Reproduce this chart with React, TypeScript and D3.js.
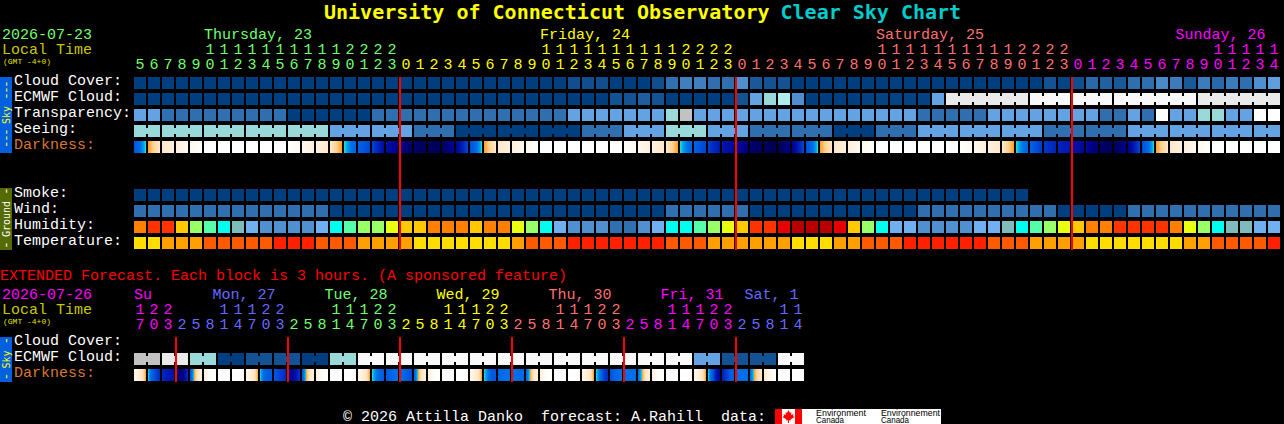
import React, { useEffect, useRef } from 'react';
import * as d3 from 'd3';

// tick labels
const mainHours = [
  5, 6, 7, 8, 9, 10, 11, 12, 13, 14, 15, 16, 17, 18, 19, 20, 21, 22, 23,
  0, 1, 2, 3, 4, 5, 6, 7, 8, 9, 10, 11, 12, 13, 14, 15, 16, 17, 18, 19, 20, 21, 22, 23,
  0, 1, 2, 3, 4, 5, 6, 7, 8, 9, 10, 11, 12, 13, 14, 15, 16, 17, 18, 19, 20, 21, 22, 23,
  0, 1, 2, 3, 4, 5, 6, 7, 8, 9, 10, 11, 12, 13, 14,
];
const extHours = [
  17, 20, 23,
  2, 5, 8, 11, 14, 17, 20, 23,
  2, 5, 8, 11, 14, 17, 20, 23,
  2, 5, 8, 11, 14, 17, 20, 23,
  2, 5, 8, 11, 14, 17, 20, 23,
  2, 5, 8, 11, 14, 17, 20, 23,
  2, 5, 8, 11, 14,
];
const mainDays = ['Thursday, 23', 'Friday, 24', 'Saturday, 25', 'Sunday, 26'];
const mainDayCols = [5, 29, 53, 74.4];
const extDays = ['Su', 'Mon, 27', 'Tue, 28', 'Wed, 29', 'Thu, 30', 'Fri, 31', 'Sat, 1'];
const extDayCols = [0, 5.6, 13.6, 21.6, 29.6, 37.6, 43.6];
const mainMidnights = [19, 43, 67];
const extMidnights = [3, 11, 19, 27, 35, 43];

// forecast values, one per hour
const cloudCover = [
  0, 0, 0, 0, 0, 0, 0, 0, 0, 0,
  0, 0, 0, 0, 0, 0, 0, 0, 0, 0,
  0, 0, 0, 0, 0, 0, 0, 0, 0, 0,
  0, 8, 8, 8, 0, 0, 0, 8, 20, 25,
  25, 20, 20, 30, 12, 10, 10, 0, 0, 0,
  0, 0, 0, 0, 0, 0, 0, 0, 0, 0,
  0, 0, 0, 0, 0, 10, 3, 8, 18, 15,
  12, 20, 20, 28, 24, 12, 24, 18, 24, 20, 30, 38,
];
const ecmwfCloud = [
  0, 0, 0, 0, 0, 0, 0, 0, 0, 0,
  0, 0, 0, 0, 0, 0, 0, 0, 0, 0,
  0, 0, 0, 0, 0, 0, 0, 0, 0, 0,
  0, 0, 0, 0, 10, 10, 14, 10, 0, 0,
  0, 0, 0, 10, 40, 50, 60, 30, 0, 0,
  0, 0, 2, 2, 2, 2, 2, 40, 80, 80,
  80, 80, 80, 80, 90, 90, 90, 90, 90, 90,
  90, 90, 90, 90, 90, 90, 80, 80, 80, 80, 80, 80,
];
const ecmwfRuns = [[58, 63], [64, 66], [67, 69], [70, 75], [76, 81]];
const transparency = [
  40, 40, 20, 20, 20, 20, 20, 20, 20, 20,
  20, 0, 0, 0, 0, 0, 0, 20, 20, 20,
  20, 20, 20, 20, 20, 20, 20, 20, 20, 20,
  20, 40, 40, 40, 40, 40, 40, 40, 50, 70,
  40, 40, 40, 40, 40, 40, 40, 40, 40, 40,
  40, 40, 40, 40, 40, 40, 20, 20, 20, 20,
  20, 40, 40, 40, 40, 40, 40, 40, 40, 20,
  20, 40, 20, 100, 40, 40, 50, 50, 40, 40, 100, 100,
];
const seeing = [
  50, 50, 50, 50, 50, 50, 50, 50, 50, 50,
  50, 50, 50, 50, 40, 40, 40, 40, 40, 40,
  20, 20, 20, 0, 0, 0, 0, 0, 0, 0,
  0, 0, 20, 20, 20, 40, 40, 40, 50, 50,
  50, 40, 40, 40, 20, 20, 20, 20, 20, 20,
  0, 0, 0, 20, 20, 20, 40, 40, 40, 40,
  40, 40, 40, 40, 40, 20, 20, 20, 20, 20,
  20, 40, 40, 40, 40, 40, 40, 40, 40, 40, 40, 40,
];
// darkness at the start of each hour, and the end of the last one
const darkness = [
  2.2, 0, -2.3, -2.8, -3.4, -4, -4, -4, -4, -4,
  -4, -4, -3.4, -2.8, -2.3, 0, 1.6, 2.5, 4.2, 5.1,
  5.6, 6, 5.9, 4.8, 2.4, 0, -2.3, -2.8, -3.4, -4,
  -4, -4, -4, -4, -4, -4, -3.4, -2.8, -2.3, 0,
  1.6, 2.6, 3.8, 4.4, 5.4, 6, 6.2, 5, 2.4, 0,
  -2.3, -2.8, -3.4, -4, -4, -4, -4, -4, -4, -4,
  -3.4, -2.8, -2.3, 0, 1.6, 2.8, 3.4, 3.8, 4.6, 5.6,
  6, 5, 2.4, 0, -2.3, -2.8, -3.4, -4, -4, -4,
  -4, -4, -4,
];
const smoke = [
  0, 0, 0, 0, 0, 0, 0, 0, 0, 0,
  0, 0, 0, 0, 0, 0, 0, 0, 0, 0,
  0, 0, 0, 0, 0, 0, 0, 0, 0, 0,
  0, 0, 0, 0, 0, 0, 0, 0, 0, 0,
  0, 0, 0, 0, 0, 0, 0, 0, 0, 0,
  0, 0, 0, 0, 0, 0, 0, 0, 0, 0,
  0, 0, 0, 0,
];
const wind = [
  8, 8, 8, 8, 8, 8, 8, 8, 8, 8,
  8, 8, 8, 8, 3, 3, 3, 3, 3, 3,
  3, 3, 3, 3, 3, 3, 3, 3, 3, 3,
  3, 3, 3, 3, 3, 3, 3, 3, 8, 8,
  8, 8, 8, 8, 3, 3, 3, 3, 3, 3,
  3, 3, 3, 3, 3, 3, 8, 8, 8, 8,
  8, 8, 8, 8, 8, 8, 3, 3, 3, 3,
  3, 8, 8, 8, 8, 8, 8, 8, 8, 8, 8, 8,
];
const humidity = [
  80, 85, 85, 75, 65, 60, 55, 50, 45, 40,
  40, 40, 40, 45, 55, 60, 65, 65, 70, 75,
  75, 80, 80, 80, 75, 80, 80, 70, 65, 55,
  45, 40, 40, 40, 35, 35, 40, 45, 55, 55,
  60, 65, 70, 75, 85, 85, 90, 95, 95, 95,
  90, 75, 65, 55, 45, 45, 40, 40, 40, 40,
  45, 45, 50, 55, 60, 65, 70, 75, 80, 80,
  85, 85, 85, 85, 80, 70, 65, 55, 50, 50, 45, 45,
];
const temperature = [
  63, 63, 66, 66, 66, 70, 70, 70, 70, 70,
  73, 73, 73, 70, 70, 70, 66, 66, 66, 66,
  63, 63, 63, 63, 63, 63, 63, 66, 70, 70,
  70, 73, 73, 73, 73, 73, 73, 73, 70, 70,
  70, 66, 66, 66, 66, 66, 66, 63, 63, 63,
  66, 66, 70, 70, 70, 73, 73, 73, 73, 73,
  73, 70, 70, 70, 66, 66, 66, 66, 63, 63,
  63, 63, 63, 63, 63, 66, 66, 70, 70, 70, 70, 73,
];

// extended forecast, one per 3 hours
const extCloud = [
  70, 70, 80, 80, 50, 50, 0, 0, 10, 10, 10, 10, 0, 0, 50, 50,
  90, 90, 90, 90, 90, 90, 90, 90, 90, 90, 90, 90, 90, 90, 90, 90,
  90, 90, 90, 90, 90, 90, 90, 90, 40, 40, 10, 10, 10, 10, 90, 90,
];
const extDarkness = [
  [-3.4, -2.8, -2.3, 0], [0, 1.6, 2.5, 3.2], [3.2, 3.6, 3.8, 3.9], [5.6, 5.4, 4.8, 3],
  [2.2, 0, -2.3, -2.8], [-2.8, -3.4, -4, -4], [-4, -4, -4, -4], [-4, -4, -4, -3.4],
  [-3.4, -2.8, -2.3, 0], [0, 1.3, 1.8, 2], [2, 2.4, 2.8, 3.2], [5, 4.6, 4, 2.8],
  [1.8, 0, -2.3, -2.8], [-2.8, -3.4, -4, -4], [-4, -4, -4, -4], [-4, -4, -4, -3.4],
  [-3.4, -2.8, -2.3, 0], [0, 0.8, 1.4, 2], [2, 1.6, 1.2, 1], [1, 1.4, 1.9, 2.4],
  [1.6, 0, -2.3, -2.8], [-2.8, -3.4, -4, -4], [-4, -4, -4, -4], [-4, -4, -4, -3.4],
  [-3.4, -2.8, -2.3, 0], [0, 0.9, 2, 2], [1.6, 1.2, 1, 1], [1, 1, 1.2, 1.4],
  [1.4, 0, -2.3, -2.8], [-2.8, -3.4, -4, -4], [-4, -4, -4, -4], [-4, -4, -4, -3.4],
  [-3.4, -2.8, -2.3, 0], [0, 1, 2.6, 3.2], [2.4, 1.6, 1.2, 1], [1, 1, 1, 1.2],
  [1.2, 0, -2.3, -2.8], [-2.8, -3.4, -4, -4], [-4, -4, -4, -4], [-4, -4, -4, -3.4],
  [-3.4, -2.8, -2.3, 0], [0, 1.6, 3.6, 4.8], [3.6, 2.8, 2, 1.6], [1, 1, 1, 1.2],
  [1.2, 0, -1.6, -2.4], [-2.4, -3, -3.6, -4], [-4, -4, -4, -4], [-4, -4, -4, -4],
];

const dayColors = ['#70FF70', '#FFFF00', '#FF7070', '#FF00FF', '#6868FF'];
const MONO = '"Liberation Mono", monospace';
const BOLD_MONO = '"DejaVu Sans Mono", monospace';
const CELL = 12;

const skyColor = d3.scaleLinear<string>()
  .domain([0, 10, 20, 30, 40, 50, 60, 70, 80, 90, 100])
  .range(['#003F7F', '#135393', '#2F6FAF', '#4F8FCF', '#63A3E3', '#99D9D9', '#AEEEEE', '#C2C2C2', '#EAEAEA', '#F9F9F9', '#FFFFFF']);
const windColor = d3.scaleThreshold<number, string>().domain([6]).range(['#003F7F', '#2F6FAF']);
const humidityColor = d3.scaleThreshold<number, string>()
  .domain([40, 45, 50, 55, 60, 65, 70, 75, 80, 85, 90, 95])
  .range(['#3070B0', '#5090D0', '#70B0F0', '#80BBBB', '#00FFEE', '#55FFAA', '#99FF66', '#E8FF10', '#FFC800', '#FF8000', '#FF3300', '#E80000', '#B80000']);
const temperatureColor = d3.scaleThreshold<number, string>()
  .domain([66, 70, 73])
  .range(['#FFDD00', '#FFA000', '#FF5A00', '#FF2000']);
const darknessColor = d3.scaleLinear<string>()
  .domain([-4, -3.4, -2.8, -2.3, -1, -0.01, 0.01, 0.4, 1, 2, 3, 4, 5, 5.5, 6, 6.5])
  .range(['#FFFFFF', '#FFF8F0', '#FFF0DE', '#FFE8C8', '#FFD090', '#FFA020', '#30E0C0', '#00A0F0', '#0070E8', '#0058E0', '#0030C8', '#0010A8', '#000090', '#000070', '#000058', '#000048'])
  .clamp(true);

export default function App() {
  const ref = useRef<SVGSVGElement>(null);

  useEffect(() => {
    if (!ref.current) return;
    const svg = d3.select(ref.current);
    svg.selectAll('*').remove();

    const mainX = d3.scaleLinear().domain([0, mainHours.length]).range([134, 1282]);
    const extX = d3.scaleLinear().domain([0, extHours.length]).range([134, 806]);

    const text = (x: number, y: number, s: string, fill: string, size = 15, anchor = 'start') =>
      svg.append('text')
        .attr('x', x)
        .attr('y', y)
        .attr('fill', fill)
        .attr('font-family', MONO)
        .attr('font-size', size)
        .attr('text-anchor', anchor)
        .style('white-space', 'pre')
        .text(s);

    // row of blocks, joined(c) says if block c is bridged to block c + 1
    const row = (x: d3.ScaleLinear<number, number>, y: number, values: number[], color: (v: number) => string, joined?: (c: number) => boolean) => {
      const g = svg.append('g').attr('shape-rendering', 'crispEdges');
      values.forEach((v, c) => {
        g.append('rect').attr('x', x(c)).attr('y', y).attr('width', CELL).attr('height', CELL).attr('fill', color(v));
        if (joined && joined(c) && c < values.length - 1) {
          g.append('rect').attr('x', x(c) + CELL).attr('y', y + 3).attr('width', x(c + 1) - x(c) - CELL).attr('height', CELL - 6).attr('fill', color(v));
        }
      });
    };

    const darknessRow = (x: d3.ScaleLinear<number, number>, y: number, cells: number[][]) => {
      const g = svg.append('g').attr('shape-rendering', 'crispEdges');
      cells.forEach((points, c) => {
        const at = d3.piecewise(d3.interpolateNumber, points);
        d3.range(CELL).forEach(p => {
          g.append('rect')
            .attr('x', x(c) + p)
            .attr('y', y)
            .attr('width', 1)
            .attr('height', CELL)
            .attr('fill', darknessColor(at((p + 0.5) / CELL)));
        });
      });
    };

    const hourTicks = (x: d3.ScaleLinear<number, number>, hours: number[], tensY: number, onesY: number, firstColor: number) => {
      let day = firstColor;
      hours.forEach((h, c) => {
        if (c > 0 && h < hours[c - 1]) day = (day + 1) % dayColors.length;
        const cx = x(c) + CELL / 2;
        if (h >= 10) text(cx, tensY, String(Math.floor(h / 10)), dayColors[day], 15, 'middle');
        text(cx, onesY, String(h % 10), dayColors[day], 15, 'middle');
      });
    };

    const sideBar = (y0: number, y1: number, fill: string, label: string, dashes: number, color: string) => {
      svg.append('rect').attr('x', 0).attr('y', y0).attr('width', 12).attr('height', y1 - y0).attr('fill', fill);
      const t = svg.append('text')
        .attr('transform', `translate(9.5,${(y0 + y1) / 2}) rotate(-90)`)
        .attr('text-anchor', 'middle')
        .attr('fill', color)
        .attr('font-family', BOLD_MONO)
        .attr('font-size', 10)
        .style('white-space', 'pre');
      // hyphens drawn bigger and squeezed so they read as the long dashes of the original
      const dash = '-'.repeat(dashes);
      t.append('tspan').attr('font-size', 13).attr('letter-spacing', -1.8).text(dash);
      t.append('tspan').text(` ${label} `);
      t.append('tspan').attr('font-size', 13).attr('letter-spacing', -1.8).text(dash);
    };

    // Title
    const title = svg.append('text').attr('x', 324).attr('y', 18.5).attr('font-family', BOLD_MONO).attr('font-size', 20).attr('font-weight', 'bold');
    title.append('tspan').attr('fill', '#FFFF00').text('University of Connecticut Observatory');
    title.append('tspan').attr('fill', '#00CCCC').attr('dx', 11).text('Clear Sky Chart');

    // Main header
    text(2, 39, '2026-07-23', dayColors[0]);
    text(2, 54, 'Local Time', '#C8C800');
    text(3, 64, '(GMT -4+0)', '#E0E000', 8);
    mainDays.forEach((d, i) => text(mainX(mainDayCols[i]), 39, d, dayColors[i]));
    hourTicks(mainX, mainHours, 54, 69, 0);

    // Sky rows
    sideBar(77, 153, '#0060E0', 'Sky', 3, '#FFFF00');
    const labels = ['Cloud Cover:', 'ECMWF Cloud:', 'Transparency:', 'Seeing:'];
    labels.forEach((l, i) => text(14, 85 + i * 16, l, '#FFFFFF'));
    text(14, 149, 'Darkness:', '#D87830');
    row(mainX, 77, cloudCover, skyColor);
    row(mainX, 93, ecmwfCloud, skyColor, c => ecmwfRuns.some(([a, b]) => c >= a && c < b));
    row(mainX, 109, transparency, skyColor);
    row(mainX, 125, seeing, skyColor, c => (c + 1) % 3 !== 2);
    darknessRow(mainX, 141, d3.range(mainHours.length).map(c => [darkness[c], darkness[c + 1]]));

    // Ground rows
    sideBar(188, 250, '#556B00', 'Ground', 1, '#FFFFFF');
    ['Smoke:', 'Wind:', 'Humidity:', 'Temperature:'].forEach((l, i) => text(14, 197 + i * 16, l, '#FFFFFF'));
    row(mainX, 189, smoke, skyColor);
    row(mainX, 205, wind, windColor);
    row(mainX, 221, humidity, humidityColor);
    row(mainX, 237, temperature, temperatureColor);

    mainMidnights.forEach(c => {
      svg.append('rect').attr('x', mainX(c) - 1).attr('y', 77).attr('width', 2).attr('height', 173).attr('fill', '#FF0000');
    });

    // Extended forecast
    text(0, 280, 'EXTENDED Forecast. Each block is 3 hours. (A sponsored feature)', '#FF0000');
    text(2, 299, '2026-07-26', dayColors[3]);
    text(2, 314, 'Local Time', '#C8C800');
    text(3, 324, '(GMT -4+0)', '#E0E000', 8);
    extDays.forEach((d, i) => text(extX(extDayCols[i]), 299, d, dayColors[(i + 3) % dayColors.length]));
    hourTicks(extX, extHours, 314, 329, 3);

    sideBar(337, 382, '#0060E0', 'Sky', 1, '#FFFF00');
    text(14, 345, 'Cloud Cover:', '#FFFFFF');
    text(14, 361, 'ECMWF Cloud:', '#FFFFFF');
    text(14, 377, 'Darkness:', '#D87830');
    row(extX, 353, extCloud, skyColor, c => c % 2 === 0);
    darknessRow(extX, 369, extDarkness);
    extMidnights.forEach(c => {
      svg.append('rect').attr('x', extX(c) - 1).attr('y', 337).attr('width', 2).attr('height', 45).attr('fill', '#FF0000');
    });

    // Footer and logos
    text(343, 421, '\u00A9 2026 Attilla Danko  forecast: A.Rahill  data:', '#FFFFFF');
    svg.append('rect').attr('x', 775).attr('y', 409).attr('width', 166).attr('height', 15).attr('fill', '#FFFFFF');
    svg.append('rect').attr('x', 775).attr('y', 409).attr('width', 7).attr('height', 15).attr('fill', '#FF0000');
    svg.append('rect').attr('x', 795).attr('y', 409).attr('width', 7).attr('height', 15).attr('fill', '#FF0000');
    svg.append('path')
      .attr('transform', 'translate(788.5,416)')
      .attr('d', 'M0,-6 L1.5,-3 L3,-4 L2.5,-1 L5,-2 L4.5,0 L6,1 L2,3.5 L2.5,4.5 L0.5,4.2 L0.5,7 L-0.5,7 L-0.5,4.2 L-2.5,4.5 L-2,3.5 L-6,1 L-4.5,0 L-5,-2 L-2.5,-1 L-3,-4 L-1.5,-3 Z')
      .attr('fill', '#FF0000');
    [['Environment', 50, 816], ['Environnement', 59, 881]].forEach(([s, w, x]) => {
      svg.append('text').attr('x', x as number).attr('y', 415.5).attr('font-family', '"Liberation Sans", sans-serif').attr('font-size', 9)
        .attr('textLength', w as number).attr('lengthAdjust', 'spacingAndGlyphs').attr('fill', '#000000').text(s as string);
      svg.append('text').attr('x', x as number).attr('y', 423).attr('font-family', '"Liberation Sans", sans-serif').attr('font-size', 9)
        .attr('textLength', 28).attr('lengthAdjust', 'spacingAndGlyphs').attr('fill', '#000000').text('Canada');
    });
  }, []);

  return (
    <svg
      ref={ref}
      width={1284}
      height={424}
      style={{ position: 'absolute', left: 0, top: 0, display: 'block', background: '#000000' }}
    />
  );
}
